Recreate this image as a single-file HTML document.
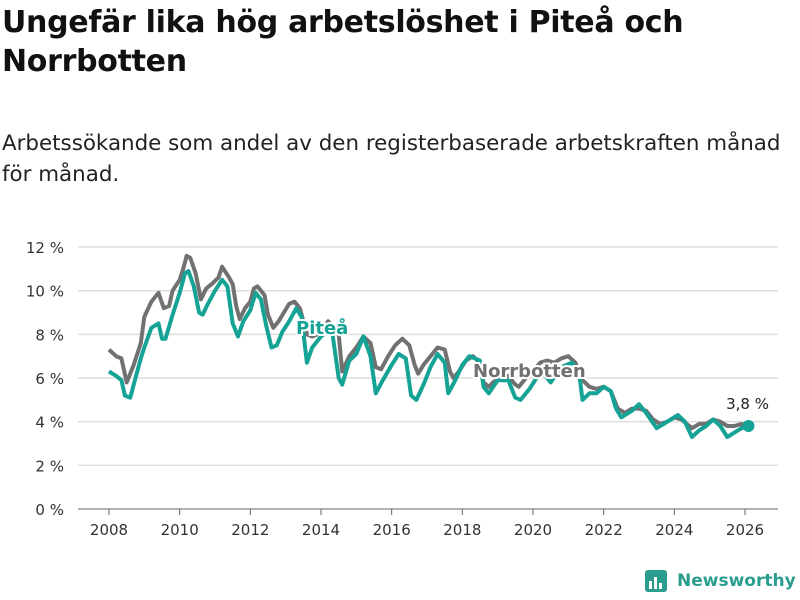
<!DOCTYPE html>
<html><head><meta charset="utf-8">
<style>
body{margin:0;width:800px;height:600px;background:#fff;font-family:"Liberation Sans","DejaVu Sans",sans-serif;overflow:hidden;position:relative;color:#111}
h1{position:absolute;left:2px;top:3px;margin:0;font-size:30px;line-height:39px;font-weight:bold;font-family:"DejaVu Sans",sans-serif;letter-spacing:-0.3px}
p{position:absolute;left:2px;top:128px;margin:0;font-size:21.4px;line-height:31px;font-family:"DejaVu Sans",sans-serif;color:#222}
svg{position:absolute;left:0;top:0}
.logo{position:absolute;left:645px;top:570px;font-size:17px;font-weight:bold;color:#2a9d8f;font-family:"DejaVu Sans",sans-serif;white-space:nowrap}
</style></head><body>
<h1>Ungefär lika hög arbetslöshet i Piteå och<br>Norrbotten</h1>
<p>Arbetssökande som andel av den registerbaserade arbetskraften månad<br>för månad.</p>
<svg id="chart" width="800" height="600"></svg>
<div class="logo"><svg width="24" height="24" style="position:absolute;left:0;top:0"><rect x="0" y="0" width="22" height="22" rx="3" fill="#2a9d8f"/><rect x="4" y="11" width="3" height="8" fill="#fff"/><rect x="9" y="7" width="3" height="12" fill="#fff"/><rect x="14" y="13" width="3" height="6" fill="#fff"/></svg><span style="margin-left:32px;line-height:22px">Newsworthy</span></div>
<script>
const yTicks=[0,2,4,6,8,10,12];
const xTicks=[2008,2010,2012,2014,2016,2018,2020,2022,2024,2026];
const norrDates=[2008.0,2008.2,2008.35,2008.5,2008.7,2008.9,2009.0,2009.2,2009.4,2009.55,2009.7,2009.8,2010.0,2010.1,2010.2,2010.3,2010.45,2010.6,2010.75,2010.9,2011.1,2011.2,2011.4,2011.5,2011.6,2011.7,2011.85,2012.0,2012.1,2012.2,2012.4,2012.5,2012.65,2012.8,2012.95,2013.1,2013.25,2013.4,2013.6,2013.75,2013.9,2014.2,2014.5,2014.6,2014.8,2015.0,2015.2,2015.4,2015.55,2015.7,2015.9,2016.1,2016.3,2016.5,2016.65,2016.75,2016.9,2017.1,2017.3,2017.5,2017.65,2017.75,2017.9,2018.1,2018.3,2018.5,2018.6,2018.75,2019.0,2019.3,2019.5,2019.6,2019.8,2020.0,2020.2,2020.4,2020.6,2020.8,2021.0,2021.2,2021.4,2021.6,2021.8,2022.0,2022.2,2022.4,2022.6,2022.8,2023.0,2023.2,2023.4,2023.6,2023.8,2024.0,2024.2,2024.35,2024.5,2024.7,2024.9,2025.1,2025.3,2025.5,2025.7,2025.9,2026.1];
const norrValues=[7.3,7.0,6.9,5.8,6.6,7.6,8.8,9.5,9.9,9.2,9.3,10.0,10.5,11.0,11.6,11.5,10.8,9.6,10.1,10.3,10.6,11.1,10.6,10.3,9.3,8.7,9.2,9.5,10.1,10.2,9.8,8.9,8.3,8.6,9.0,9.4,9.5,9.2,8.0,7.9,8.0,8.6,8.0,6.3,7.0,7.4,7.9,7.6,6.5,6.4,7.0,7.5,7.8,7.5,6.6,6.2,6.6,7.0,7.4,7.3,6.3,6.0,6.3,6.8,7.0,6.7,5.8,5.6,6.0,6.1,5.7,5.6,6.0,6.3,6.7,6.8,6.7,6.9,7.0,6.7,5.9,5.6,5.5,5.6,5.4,4.6,4.4,4.6,4.6,4.5,4.1,3.9,4.0,4.2,4.1,3.9,3.7,3.9,3.9,4.1,4.0,3.8,3.8,3.9,3.8];
const piteDates=[2008.0,2008.2,2008.35,2008.45,2008.6,2008.75,2008.9,2009.0,2009.2,2009.4,2009.5,2009.6,2009.8,2010.0,2010.15,2010.25,2010.4,2010.55,2010.65,2010.8,2011.0,2011.2,2011.35,2011.5,2011.65,2011.8,2012.0,2012.15,2012.3,2012.45,2012.6,2012.75,2012.9,2013.1,2013.3,2013.45,2013.6,2013.75,2014.0,2014.3,2014.5,2014.6,2014.8,2015.0,2015.2,2015.4,2015.55,2015.75,2016.0,2016.2,2016.4,2016.55,2016.7,2016.9,2017.1,2017.3,2017.5,2017.6,2017.8,2018.0,2018.2,2018.5,2018.6,2018.75,2019.0,2019.3,2019.5,2019.65,2019.9,2020.1,2020.3,2020.5,2020.8,2021.1,2021.3,2021.4,2021.6,2021.8,2022.0,2022.2,2022.35,2022.5,2022.8,2023.0,2023.2,2023.5,2023.8,2024.1,2024.3,2024.5,2024.7,2024.9,2025.1,2025.3,2025.5,2025.7,2025.9,2026.1];
const piteValues=[6.3,6.1,5.9,5.2,5.1,6.0,6.9,7.4,8.3,8.5,7.8,7.8,8.9,9.9,10.8,10.9,10.2,9.0,8.9,9.4,10.0,10.5,10.2,8.5,7.9,8.6,9.1,9.9,9.6,8.4,7.4,7.5,8.1,8.6,9.2,8.8,6.7,7.4,7.9,8.3,6.0,5.7,6.8,7.1,7.9,7.0,5.3,5.9,6.6,7.1,6.9,5.2,5.0,5.7,6.5,7.1,6.7,5.3,5.9,6.6,7.0,6.8,5.6,5.3,5.9,5.9,5.1,5.0,5.5,6.0,6.2,5.8,6.5,6.7,6.3,5.0,5.3,5.3,5.6,5.4,4.6,4.2,4.5,4.8,4.4,3.7,4.0,4.3,4.0,3.3,3.6,3.8,4.1,3.8,3.3,3.5,3.7,3.8];
const NS="http://www.w3.org/2000/svg";
const svg=document.getElementById('chart');
const X=v=>109+(v-2008)*(636/18);
const Y=v=>509-v*21.83;
function el(t,a,txt){const e=document.createElementNS(NS,t);for(const k in a)e.setAttribute(k,a[k]);if(txt!=null)e.textContent=txt;svg.appendChild(e);return e;}
yTicks.forEach(t=>{
 const g=el('line',{x1:78,x2:778,y1:Y(t),y2:Y(t),stroke:t===0?'#666':'#ddd','stroke-width':t===0?1:1.5});
 
 
 const l=el('text',{x:64,y:Y(t)+6,'text-anchor':'end','font-size':15,fill:'#333','font-family':'DejaVu Sans, sans-serif'},t+' %');
 
 
});
xTicks.forEach(t=>{
 const k=el('line',{x1:X(t),x2:X(t),y1:509,y2:515,stroke:'#666'});
 
 
 const l=el('text',{x:X(t),y:535,'text-anchor':'middle','font-size':15,fill:'#333','font-family':'DejaVu Sans, sans-serif'},t);
 
 
});
function line(d,v,c,name){
 const p=el('path',{d:d.map((x,i)=>(i?'L':'M')+X(x).toFixed(1)+' '+Y(v[i]).toFixed(1)).join(''),fill:'none',stroke:c,'stroke-width':4,'stroke-linejoin':'round'});
 
 
}
line(norrDates,norrValues,'#717171','line-norrbotten');
line(piteDates,piteValues,'#14a394','line-pitea');
function lab(x,y,t,c,name){
 const e=el('text',{x:x,y:y,'font-size':18,'font-weight':'bold',fill:c,stroke:'#fff','stroke-width':4,'paint-order':'stroke','font-family':'DejaVu Sans, sans-serif'},t);
 
 
}
lab(296,334,'Piteå','#14a394','label-pitea');
lab(473,377,'Norrbotten','#717171','label-norrbotten');
const lastI=piteValues.length-1;
const dot=el('circle',{cx:X(piteDates[lastI]),cy:Y(piteValues[lastI]),r:6,fill:'#14a394'});


const vl=el('text',{x:X(piteDates[lastI])-1,y:Y(piteValues[lastI])-17,'text-anchor':'middle','font-size':15,fill:'#222','font-family':'DejaVu Sans, sans-serif'},piteValues[lastI].toFixed(1).replace('.',',')+' %');


</script>
</body></html>
